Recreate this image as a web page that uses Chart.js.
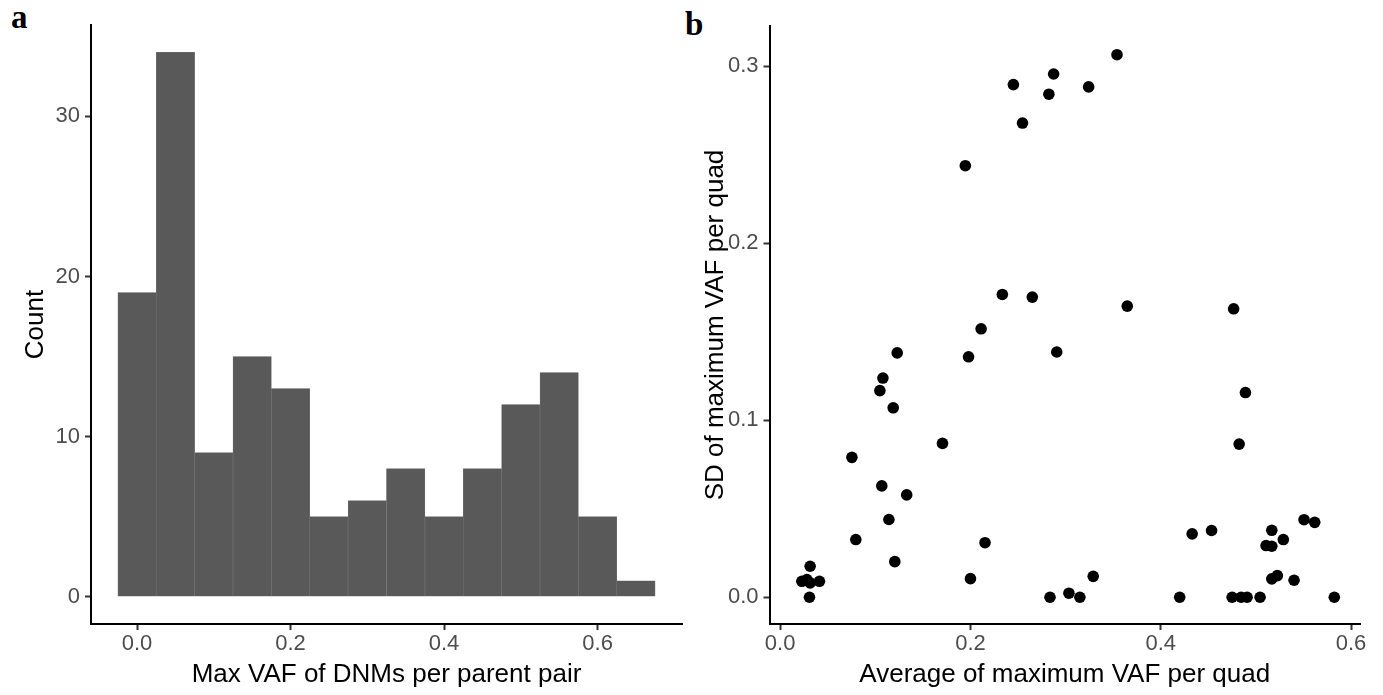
<!DOCTYPE html>
<html>
<head>
<meta charset="utf-8">
<script src="https://cdn.jsdelivr.net/npm/chart.js@4"></script>
<style>
  html, body { margin: 0; padding: 0; background: #ffffff; }
  body { width: 1383px; height: 695px; position: relative; overflow: hidden; }
  .panel { position: absolute; top: 0; height: 695px; }
  .tag { position: absolute; font-family: "Liberation Serif", serif; font-weight: bold; font-size: 33px; line-height: 33px; color: #000; }
</style>
</head>
<body>
<div class="tag" style="left:11px; top:1px;">a</div>
<div class="tag" style="left:685px; top:8px;">b</div>
<div class="panel" style="left:0; width:692px;"><canvas id="histo"></canvas></div>
<div class="panel" style="left:692px; width:691px;"><canvas id="scatter"></canvas></div>
<script>
// ---- Panel a: histogram of max VAF per parent pair ----
const binCenters = [0.00, 0.05, 0.10, 0.15, 0.20, 0.25, 0.30, 0.35, 0.40, 0.45, 0.50, 0.55, 0.60, 0.65];
const binCounts  = [19, 34, 9, 15, 13, 5, 6, 8, 5, 8, 12, 14, 5, 1];
const histXTicks = [0.0, 0.2, 0.4, 0.6];
const histYTicks = [0, 10, 20, 30];

// ---- Panel b: average vs SD of maximum VAF per quad ----
const quadAvg = [
  0.0308, 0.0315, 0.0228, 0.0315, 0.0413, 0.0281, 0.0754, 0.0795, 0.1048, 0.1080,
  0.1230, 0.1188, 0.1068, 0.1330, 0.1143, 0.1205, 0.1706, 0.1946, 0.1980, 0.2112,
  0.2000, 0.2153, 0.2335, 0.2451, 0.2547, 0.2650, 0.2824, 0.2874, 0.2907, 0.2836,
  0.3035, 0.3150, 0.3290, 0.3242, 0.3540, 0.3648, 0.4199, 0.4330, 0.4534, 0.4766,
  0.4890, 0.4824, 0.4750, 0.4845, 0.4907, 0.5044, 0.5167, 0.5107, 0.5167, 0.5288,
  0.5167, 0.5225, 0.5401, 0.5506, 0.5618, 0.5824
];
const quadSD = [
  0.0000, 0.0175, 0.0090, 0.0081, 0.0090, 0.0100, 0.0790, 0.0326, 0.1167, 0.1238,
  0.1380, 0.1070, 0.0629, 0.0578, 0.0439, 0.0201, 0.0869, 0.2437, 0.1358, 0.1516,
  0.0105, 0.0308, 0.1710, 0.2895, 0.2678, 0.1695, 0.2841, 0.2955, 0.1385, 0.0000,
  0.0023, 0.0000, 0.0118, 0.2882, 0.3064, 0.1644, 0.0000, 0.0358, 0.0377, 0.1629,
  0.1156, 0.0865, 0.0000, 0.0000, 0.0000, 0.0000, 0.0378, 0.0292, 0.0288, 0.0326,
  0.0104, 0.0122, 0.0096, 0.0438, 0.0423, 0.0000
];
const scatXTicks = [0.0, 0.2, 0.4, 0.6];
const scatYTicks = [0.0, 0.1, 0.2, 0.3];

Chart.defaults.font.family = '"Liberation Sans", Arial, sans-serif';
Chart.defaults.animation = false;

function axisStyle(ticksArr, decimals, titleText, titlePad, isY, fixedSize) {
  return {
    type: 'linear',
    offset: false,
    afterBuildTicks: (scale) => { scale.ticks = ticksArr.map(v => ({ value: v })); },
    afterFit: (scale) => { if (isY) scale.width = fixedSize; else scale.height = fixedSize; },
    grid: { display: true, offset: false, drawOnChartArea: false, drawTicks: true, tickLength: 6, tickWidth: 2, color: '#333333' },
    border: { display: true, color: '#000000', width: 2 },
    ticks: {
      color: '#4d4d4d',
      font: { size: 22 },
      padding: isY ? 5 : 1,
      maxRotation: 0,
      autoSkip: false,
      callback: (v) => Number(v).toFixed(decimals)
    },
    title: {
      display: true,
      text: titleText,
      color: '#000000',
      font: { size: 26 },
      padding: titlePad
    }
  };
}

// Histogram
const hx = axisStyle(histXTicks, 1, 'Max VAF of DNMs per parent pair', { top: 0, bottom: 5 }, false, 71);
hx.min = -0.06; hx.max = 0.71;
const hy = axisStyle(histYTicks, 0, 'Count', { top: 20, bottom: 0 }, true, 91);
hy.min = -1.7; hy.max = 35.7;

new Chart(document.getElementById('histo'), {
  type: 'bar',
  data: {
    datasets: [{
      data: binCenters.map((c, i) => ({ x: c, y: binCounts[i] })),
      backgroundColor: '#595959',
      borderColor: '#737373',
      borderWidth: 0.6,
      borderSkipped: false,
      barPercentage: 1.0,
      categoryPercentage: 1.0
    }]
  },
  options: {
    responsive: true,
    maintainAspectRatio: false,
    layout: { padding: { top: 25, right: 10, left: 0, bottom: 0 } },
    plugins: { legend: { display: false }, tooltip: { enabled: false } },
    scales: { x: hx, y: hy }
  }
});

// Scatter
const sx = axisStyle(scatXTicks, 1, 'Average of maximum VAF per quad', { top: 0, bottom: 5 }, false, 71);
sx.min = -0.0112; sx.max = 0.6094;
const sy = axisStyle(scatYTicks, 1, 'SD of maximum VAF per quad', { top: 8, bottom: 0 }, true, 77.5);
sy.min = -0.0151; sy.max = 0.3226;

new Chart(document.getElementById('scatter'), {
  type: 'scatter',
  data: {
    datasets: [{
      data: quadAvg.map((a, i) => ({ x: a, y: quadSD[i] })),
      backgroundColor: '#000000',
      borderColor: '#000000',
      borderWidth: 0,
      pointRadius: 5.8,
      pointHoverRadius: 5.8
    }]
  },
  options: {
    responsive: true,
    maintainAspectRatio: false,
    layout: { padding: { top: 26, right: 23, left: 0, bottom: 0 } },
    plugins: { legend: { display: false }, tooltip: { enabled: false } },
    scales: { x: sx, y: sy }
  }
});
</script>
</body>
</html>
